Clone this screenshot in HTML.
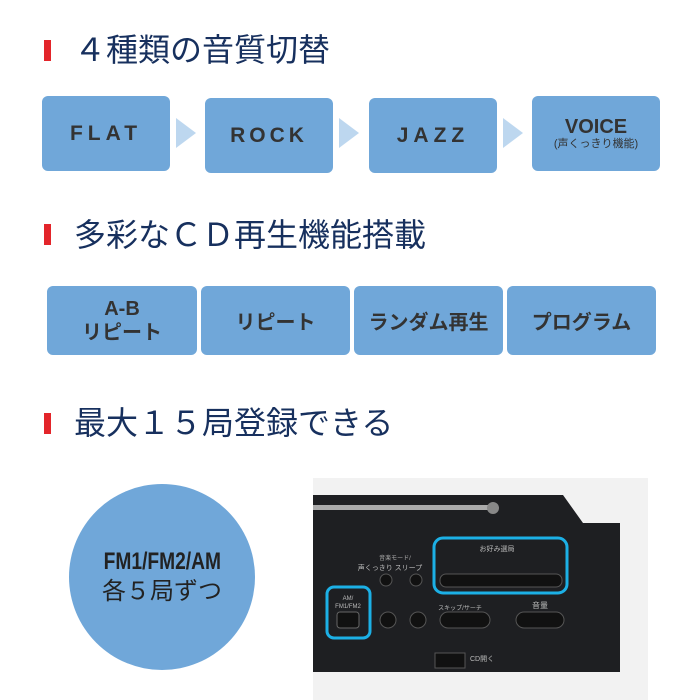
<!DOCTYPE html>
<html><head><meta charset="utf-8"><style>
body{margin:0;width:700px;height:700px;background:#fff;overflow:hidden;position:relative;font-family:"Liberation Sans","Noto Sans CJK JP",sans-serif}
.h{position:absolute;left:74px;font-size:32px;color:#17305e;white-space:nowrap;line-height:40px}
.bar{position:absolute;left:44px;width:7px;height:21px;background:#e3252a}
.b{position:absolute;background:#70a7d9;border-radius:6px;display:flex;flex-direction:column;align-items:center;justify-content:center;color:#333;font-weight:bold;text-align:center}
.a{position:absolute;width:0;height:0;border-top:15px solid transparent;border-bottom:15px solid transparent;border-left:20px solid #bdd7ef;top:118px}
</style></head><body>
<div class="bar" style="top:40px"></div><div class="h" style="top:30px">４種類の音質切替</div>
<div class="b" style="left:42px;top:96px;width:128px;height:75px;font-size:21px;letter-spacing:5px">FLAT</div>
<div class="a" style="left:176px"></div>
<div class="b" style="left:205px;top:98px;width:128px;height:75px;font-size:21px;letter-spacing:4px">ROCK</div>
<div class="a" style="left:339px"></div>
<div class="b" style="left:369px;top:98px;width:128px;height:75px;font-size:21px;letter-spacing:5px">JAZZ</div>
<div class="a" style="left:503px"></div>
<div class="b" style="left:532px;top:96px;width:128px;height:75px;font-size:20px;line-height:20px">VOICE<span style="font-size:11px;font-weight:normal;line-height:14px">(声くっきり機能)</span></div>
<div class="bar" style="top:224px"></div><div class="h" style="top:215px">多彩なＣＤ再生機能搭載</div>
<div class="b" style="left:47px;top:286px;width:150px;height:69px;font-size:20px;line-height:24px">A-B<br>リピート</div>
<div class="b" style="left:201px;top:286px;width:149px;height:69px;font-size:20px">リピート</div>
<div class="b" style="left:354px;top:286px;width:149px;height:69px;font-size:20px">ランダム再生</div>
<div class="b" style="left:507px;top:286px;width:149px;height:69px;font-size:20px">プログラム</div>
<div class="bar" style="top:413px"></div><div class="h" style="top:403px">最大１５局登録できる</div>
<div style="position:absolute;left:69px;top:484px;width:186px;height:186px;border-radius:50%;background:#70a7d9;display:flex;flex-direction:column;align-items:center;justify-content:center;color:#222;font-size:24px;line-height:30px;font-weight:bold"><span style="transform:scaleX(0.8)">FM1/FM2/AM</span><span style="font-weight:normal">各５局ずつ</span></div>
<svg style="position:absolute;left:0;top:0" width="700" height="700">
<rect x="313" y="478" width="335" height="222" fill="#f2f2f2"/>
<path d="M313 495 L563 495 L583 523 L620 523 L620 672 L313 672 Z" fill="#1e1f22"/>
<rect x="313" y="505" width="180" height="5" fill="#aaa"/>
<circle cx="493" cy="508" r="6" fill="#888"/>
<rect x="434" y="538" width="133" height="55" rx="9" fill="none" stroke="#1cb0e6" stroke-width="3"/>
<rect x="327" y="587" width="43" height="51" rx="7" fill="none" stroke="#1cb0e6" stroke-width="3"/>
<rect x="440" y="574" width="122" height="13" rx="6" fill="#111" stroke="#555"/>
<text x="497" y="551" font-size="7" fill="#bbb" text-anchor="middle">お好み選局</text>
<text x="395" y="560" font-size="6" fill="#aaa" text-anchor="middle">音楽モード/</text>
<text x="390" y="570" font-size="7" fill="#bbb" text-anchor="middle">声くっきり スリープ</text>
<circle cx="386" cy="580" r="6" fill="#111" stroke="#555"/><circle cx="416" cy="580" r="6" fill="#111" stroke="#555"/>
<text x="348" y="600" font-size="6" fill="#bbb" text-anchor="middle">AM/</text>
<text x="348" y="608" font-size="6" fill="#bbb" text-anchor="middle">FM1/FM2</text>
<rect x="337" y="612" width="22" height="16" rx="3" fill="#111" stroke="#666"/>
<circle cx="388" cy="620" r="8" fill="#111" stroke="#555"/><circle cx="418" cy="620" r="8" fill="#111" stroke="#555"/>
<rect x="440" y="612" width="50" height="16" rx="8" fill="#111" stroke="#555"/>
<rect x="516" y="612" width="48" height="16" rx="8" fill="#111" stroke="#555"/>
<text x="540" y="608" font-size="8" fill="#bbb" text-anchor="middle">音量</text>
<text x="460" y="610" font-size="6" fill="#bbb" text-anchor="middle">スキップ/サーチ</text>
<rect x="435" y="653" width="30" height="15" fill="#111" stroke="#555"/>
<text x="470" y="661" font-size="7" fill="#bbb">CD開く</text>
</svg>
</body></html>
